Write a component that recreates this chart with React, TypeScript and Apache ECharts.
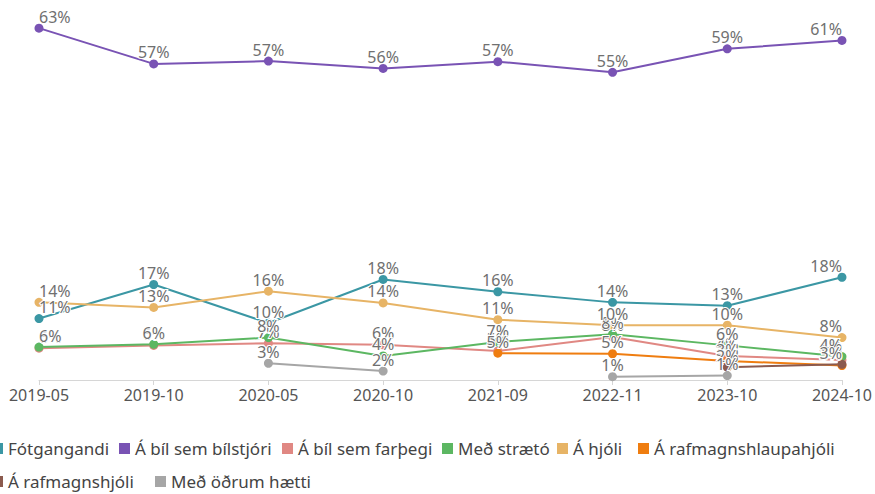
import React, { useEffect, useRef } from "react";
import * as echarts from "echarts";

const categories = ["2019-05", "2019-10", "2020-05", "2020-10", "2021-09", "2022-11", "2023-10", "2024-10"];

const seriesNames = [
  "Fótgangandi",
  "Á bíl sem bílstjóri",
  "Á bíl sem farþegi",
  "Með strætó",
  "Á hjóli",
  "Á rafmagnshlaupahjóli",
  "Á rafmagnshjóli",
  "Með öðrum hætti",
];

const fotgangandi = [11.0, 17.1, 10.2, 18.0, 15.8, 13.9, 13.3, 18.4];
const bilstjori = [63.0, 56.6, 57.1, 55.8, 57.0, 55.1, 59.3, 60.8];
const farthegi = [5.7, 6.2, 6.6, 6.3, 5.2, 7.7, 4.3, 3.6];
const straeto = [5.9, 6.4, 7.6, 4.3, 6.8, 8.2, 6.2, 4.2];
const hjoli = [13.9, 13.0, 15.9, 13.8, 10.8, 9.8, 9.8, 7.6];
const rafhlaup = [null, null, null, null, 4.8, 4.7, 3.4, 2.6];
const rafhjoli = [null, null, null, null, null, null, 2.3, 2.8];
const odrum = [null, null, 3.0, 1.6, null, 0.6, 0.8, null];

const seriesValues: (number | null)[][] = [fotgangandi, bilstjori, farthegi, straeto, hjoli, rafhlaup, rafhjoli, odrum];
const colors = ["#3b97a4", "#7953b4", "#e08883", "#5cb762", "#e7b466", "#ef7d10", "#8b5a4e", "#a6a6a6"];

// legend item placement (icon left x, row top y)
const legendPos: [number, number][] = [
  [-8, 440], [119, 440], [282, 440], [442, 440], [557, 440], [638, 440],
  [-8, 473], [155, 473],
];

export default function App() {
  const ref = useRef<HTMLDivElement>(null);
  useEffect(() => {
    if (!ref.current) return;
    const chart = echarts.init(ref.current, undefined, { renderer: "svg" });
    const last = categories.length - 1;
    const series = seriesValues.map((vals, si) => ({
      name: seriesNames[si],
      type: "line",
      data: vals.map((v, i) => {
        if (v === null) return null;
        const item: any = { value: v };
        if (i === 0) item.label = { align: "left" };
        if (i === last) item.label = { align: "right" };
        return item;
      }),
      connectNulls: false,
      symbol: "circle",
      symbolSize: 9,
      lineStyle: { width: 2, color: colors[si] },
      itemStyle: { color: colors[si] },
      label: {
        show: true,
        position: "top",
        distance: -1,
        fontFamily: "Noto Sans",
        fontSize: 16,
        color: "#707070",
        textBorderColor: "#ffffff",
        textBorderWidth: 2,
        formatter: (p: any) => Math.round(p.value) + "%",
      },
    }));
    const legends = seriesNames.map((name, i) => ({
      left: legendPos[i][0],
      top: legendPos[i][1],
      padding: 0,
      icon: "rect",
      itemWidth: 11,
      itemHeight: 11,
      textStyle: { fontFamily: "Noto Sans", fontSize: 17, color: "#444" },
      data: [name],
    }));
    chart.setOption({
      animation: false,
      color: colors,
      grid: { left: 39, right: 32, top: 17, bottom: 114 },
      xAxis: {
        type: "category",
        data: categories,
        boundaryGap: false,
        axisLine: { lineStyle: { color: "#d6d6d6" } },
        axisTick: { show: true, length: 5, lineStyle: { color: "#d6d6d6" } },
        axisLabel: { fontFamily: "Noto Sans", fontSize: 16, color: "#555", margin: 7 },
      },
      yAxis: {
        type: "value",
        min: 0,
        max: 65,
        show: false,
        splitLine: { show: false },
      },
      legend: legends,
      series,
    });
    return () => chart.dispose();
  }, []);
  return <div ref={ref} style={{ position: "absolute", left: 0, top: 0, width: 875, height: 494 }} />;
}
